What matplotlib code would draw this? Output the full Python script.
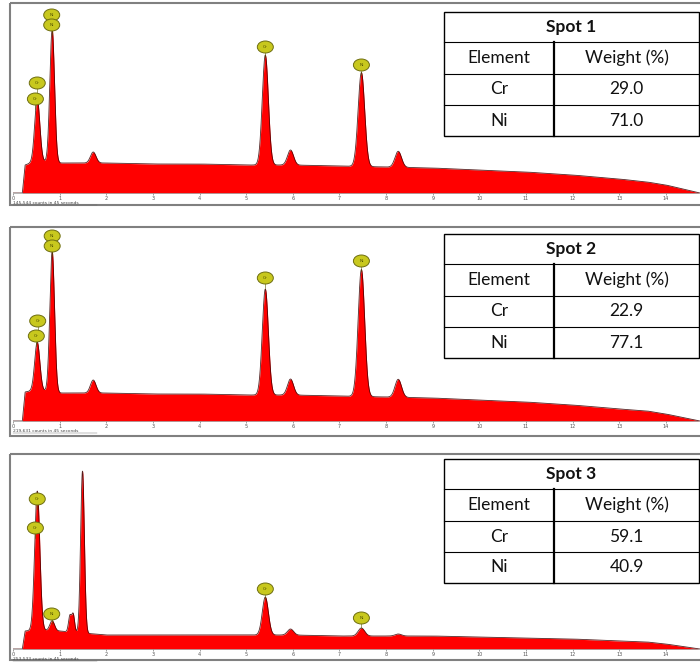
import matplotlib

matplotlib.use("AGG")
import numpy as np
import matplotlib.pyplot as plt
from matplotlib.patches import Ellipse, Rectangle

# EDS spectra of three spots, intensity in arbitrary units
# background knots: energy (keV) and level
bg_energy = [0.0, 0.2, 0.26, 0.5, 1.0, 2.0, 3.0, 4.0, 5.0, 6.0, 7.0, 8.0, 9.0,
             10.0, 11.0, 12.0, 13.0, 13.6, 14.0, 14.73]
bg_spot1 = [0, 0, 28, 32, 30, 30, 29, 29, 28, 28, 27, 26, 25, 23, 21, 18, 14, 11, 8, 0]
bg_spot2 = [0, 0, 29, 31, 28, 28, 27, 27, 26, 26, 25, 24, 23, 21, 19, 16, 12, 10, 7, 0]
bg_spot3 = [0, 0, 18, 19, 18, 14, 14, 14, 14, 14, 13, 13, 13, 12, 11, 10, 8, 7, 5, 0]

# peaks: energy (keV), amplitude above background, sigma (keV)
peaks_spot1 = [(0.52, 62, 0.055), (0.84, 133, 0.05), (1.72, 11, 0.06),
               (5.41, 110, 0.065), (5.95, 15, 0.065), (7.47, 94, 0.07), (8.26, 16, 0.07)]
peaks_spot2 = [(0.52, 48, 0.055), (0.84, 141, 0.05), (1.72, 13, 0.06),
               (5.41, 106, 0.065), (5.95, 16, 0.065), (7.47, 127, 0.07), (8.26, 18, 0.07)]
peaks_spot3 = [(0.52, 139, 0.055), (0.84, 10, 0.05), (1.22, 16, 0.03), (1.29, 18, 0.03),
               (1.49, 162, 0.04), (5.41, 38, 0.065), (5.95, 6, 0.065), (7.47, 8, 0.07),
               (8.26, 2, 0.07)]

# element labels: symbol, energy, label height
labels_spot1 = [("Ni", 0.83, 178), ("Ni", 0.83, 168), ("Cr", 0.52, 110), ("Cr", 0.48, 94),
                ("Cr", 5.41, 146), ("Ni", 7.47, 128)]
labels_spot2 = [("Ni", 0.84, 185), ("Ni", 0.84, 175), ("Cr", 0.53, 100), ("Cr", 0.50, 85),
                ("Cr", 5.41, 143), ("Ni", 7.47, 160)]
labels_spot3 = [("Cr", 0.52, 150), ("Cr", 0.48, 121), ("Ni", 0.83, 35),
                ("Cr", 5.41, 60), ("Ni", 7.47, 31)]

counts_text = ["145,544 counts in 45 seconds", "219,631 counts in 45 seconds",
               "253,533 counts in 45 seconds"]

spots = ["Spot 1", "Spot 2", "Spot 3"]
elements = ["Cr", "Ni"]
weight_cr = [29.0, 22.9, 59.1]
weight_ni = [71.0, 77.1, 40.9]

W, H = 700, 662
fig = plt.figure(figsize=(W / 100, H / 100), dpi=100)

# panel layout in pixels: frame top, frame bottom, baseline, table top
panels = [(3, 205, 193, 12), (227, 436, 421, 234), (454, 660, 649, 459)]
x0_px = 13            # 0 keV
px_per_kev = 46.64
xmax = (W - x0_px) / px_per_kev

E = np.linspace(0, xmax, 3000)

bgs = [bg_spot1, bg_spot2, bg_spot3]
peak_sets = [peaks_spot1, peaks_spot2, peaks_spot3]
label_sets = [labels_spot1, labels_spot2, labels_spot3]

for i, (ftop, fbot, base, ttop) in enumerate(panels):
    top = ftop + 2
    ax = fig.add_axes([x0_px / W, 1 - base / H, (W - x0_px) / W, (base - top) / H])
    ax.set_xlim(0, xmax)
    ax.set_ylim(0, base - top)

    y = np.interp(E, bg_energy, bgs[i])
    for e0, a, s in peak_sets[i]:
        y = y + a * np.exp(-0.5 * ((E - e0) / s) ** 2)
    ax.fill_between(E, 0, y, color="#ff0000", lw=0)
    ax.plot(E, y, color="#3a0000", lw=0.6, alpha=0.85)

    for sym, e0, h in label_sets[i]:
        ax.plot([e0, e0], [h - 10, h - 5], color="#555500", lw=0.4)
        ax.add_patch(Ellipse((e0, h), 16 / px_per_kev, 12, fc="#c8c81e",
                             ec="#6e6e10", lw=0.7, clip_on=False, zorder=5))
        ax.text(e0, h, sym, fontsize=3.2, color="#505000", ha="center", va="center", zorder=6)

    ax.set_yticks([])
    ax.set_xticks(range(15))
    ax.tick_params(axis="x", length=1.5, width=0.4, pad=1, labelsize=3.5,
                   colors="#555555")
    for sp in ["top", "right", "left"]:
        ax.spines[sp].set_visible(False)
    ax.spines["bottom"].set_color("#999999")
    ax.spines["bottom"].set_linewidth(0.5)
    ax.patch.set_alpha(0)

# overlay in pixel coordinates for frames, captions and tables
ov = fig.add_axes([0, 0, 1, 1])
ov.set_xlim(0, W)
ov.set_ylim(H, 0)
ov.axis("off")
ov.patch.set_alpha(0)

col_w = [444, 554, 699]
row_h = [0, 30, 62, 93, 124]
for i, (ftop, fbot, base, ttop) in enumerate(panels):
    ov.add_patch(Rectangle((10, ftop), W, fbot - ftop, fill=False,
                           ec="#808080", lw=1.5))
    ov.text(13, base + 9.5, counts_text[i], fontsize=3.2, color="#444444",
            ha="left", va="center")
    ov.plot([13, 97], [base + 11.5, base + 11.5], color="#666666", lw=0.3)

    # table
    ys = [ttop + r for r in row_h]
    ov.add_patch(Rectangle((col_w[0], ys[0]), col_w[2] - col_w[0], ys[-1] - ys[0],
                           fc="white", ec="black", lw=1.0, zorder=3))
    for yy in ys[1:-1]:
        ov.plot([col_w[0], col_w[2]], [yy, yy], color="black", lw=0.8, zorder=4)
    ov.plot([col_w[1], col_w[1]], [ys[1], ys[-1]], color="black", lw=1.6, zorder=4)

    cx_left = (col_w[0] + col_w[1]) / 2
    cx_right = (col_w[1] + col_w[2]) / 2
    tk = dict(family="Lato", fontsize=12.5, color="#111111", ha="center",
              va="center", zorder=5)
    ov.text((col_w[0] + col_w[2]) / 2, (ys[0] + ys[1]) / 2, spots[i],
            fontweight="bold", **tk)
    ov.text(cx_left, (ys[1] + ys[2]) / 2, "Element", **tk)
    ov.text(cx_right, (ys[1] + ys[2]) / 2, "Weight (%)", **tk)
    vals = [weight_cr[i], weight_ni[i]]
    for k, el in enumerate(elements):
        yc = (ys[2 + k] + ys[3 + k]) / 2
        ov.text(cx_left, yc, el, **tk)
        ov.text(cx_right, yc, "{:.1f}".format(vals[k]), **tk)

fig.savefig("out.png", dpi=100)
